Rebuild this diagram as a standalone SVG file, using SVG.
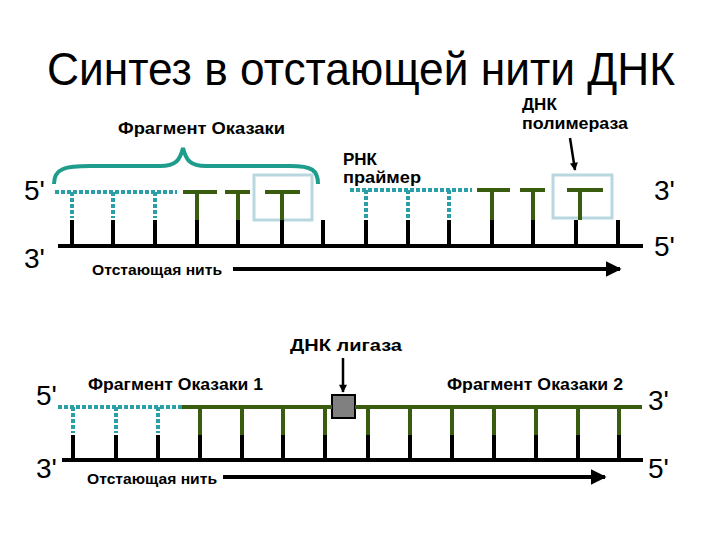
<svg xmlns="http://www.w3.org/2000/svg" width="720" height="540" viewBox="0 0 720 540">
<defs>
<style>
.t{font-family:"Liberation Sans",Arial,sans-serif;fill:#000}
.lbl{font-size:17px;font-weight:bold}
.sm{font-size:15px;font-weight:bold}
.end{font-size:28px}
.strand{stroke:#000;stroke-width:4;fill:none}
.tick{stroke:#000;stroke-width:4}
.rna{stroke:#2b9fa6;stroke-width:4;stroke-dasharray:4 2;fill:none}
.dna{stroke:#3a5c0e;stroke-width:4;fill:none}
.box{fill:none;stroke:#b9d7df;stroke-width:3}
</style>
<marker id="ah" viewBox="0 0 10 10" refX="9" refY="5" markerWidth="4" markerHeight="4" orient="auto" markerUnits="strokeWidth"><path d="M0,0 L10,5 L0,10 z" fill="#000"/></marker>
<marker id="ah2" viewBox="0 0 10 10" refX="9" refY="5" markerWidth="4" markerHeight="3.2" orient="auto" markerUnits="strokeWidth"><path d="M0,0 L10,5 L0,10 z" fill="#000"/></marker>
</defs>
<rect width="720" height="540" fill="#fff"/>
<text id="title" class="t" x="47" y="85" font-size="46" textLength="628" lengthAdjust="spacingAndGlyphs">Синтез в отстающей нити ДНК</text>

<g id="top">
<text class="t lbl" x="118" y="134" textLength="167" lengthAdjust="spacingAndGlyphs">Фрагмент Оказаки</text>
<text class="t lbl" x="522" y="110">ДНК</text>
<text class="t lbl" x="522" y="129" textLength="106" lengthAdjust="spacingAndGlyphs">полимераза</text>
<text class="t lbl" x="343" y="165">РНК</text>
<text class="t lbl" x="343" y="183" textLength="78" lengthAdjust="spacingAndGlyphs">праймер</text>
<text class="t end" x="24" y="200">5'</text>
<text class="t end" x="24" y="268">3'</text>
<text class="t end" x="654" y="200">3'</text>
<text class="t end" x="654" y="256">5'</text>
<text class="t sm" x="92" y="275" textLength="130" lengthAdjust="spacingAndGlyphs">Отстающая нить</text>
<path id="brace" d="M54,184 C54,168 66,166 90,166 L160,166 C176,166 180,160 183,148 C186,160 190,166 206,166 L290,166 C312,166 318,170 318,184" fill="none" stroke="#1e9c8c" stroke-width="4"/>
<rect id="pol1" class="box" x="254" y="175" width="58" height="45"/>
<rect id="pol2" class="box" x="553" y="175" width="59" height="43"/>
</g>

<g id="bottom">
<text class="t lbl" x="290" y="351" font-size="18" textLength="112" lengthAdjust="spacingAndGlyphs">ДНК лигаза</text>
<text class="t lbl" x="88" y="390" textLength="175" lengthAdjust="spacingAndGlyphs">Фрагмент Оказаки 1</text>
<text class="t lbl" x="447" y="390" textLength="176" lengthAdjust="spacingAndGlyphs">Фрагмент Оказаки 2</text>
<text class="t end" x="36" y="405">5'</text>
<text class="t end" x="36" y="478">3'</text>
<text class="t end" x="648" y="410">3'</text>
<text class="t end" x="648" y="478">5'</text>
<text class="t sm" x="87" y="484" textLength="130" lengthAdjust="spacingAndGlyphs">Отстающая нить</text>
<rect id="ligase" x="332" y="395" width="23" height="23" fill="#808080" stroke="#000" stroke-width="2"/>
</g>

<g id="connectors">
<line class="strand" x1="58" y1="246" x2="643" y2="246"/>
<path class="tick" d="M72,220V246M113,220V246M155,220V246M197,220V246M238,220V246M282,220V246M323,220V246M366,220V246M408,220V246M449,220V246M492,220V246M533,220V246M576,220V246M618,220V246"/>
<path class="rna" d="M55,192H177M350,190H472"/>
<path class="rna" d="M72,192V218M113,192V218M155,192V218M366,190V218M408,190V218M449,190V218"/>
<path class="dna" d="M183,192H217M197,192V220M225,192H250M238,192V220M265,192H300M282,192V220M477,190H510M492,190V220M520,190H545M533,190V220M567,190H603M580,190V220"/>
<line x1="233" y1="269" x2="620" y2="269" stroke="#000" stroke-width="4" marker-end="url(#ah)"/>
<line x1="570" y1="138" x2="575" y2="170" stroke="#000" stroke-width="2.5" marker-end="url(#ah2)"/>

<line class="strand" x1="62" y1="460" x2="643" y2="460"/>
<path class="tick" d="M73,435V460M116,435V460M158,435V460M200,435V460M242,435V460M283,435V460M325,435V460M368,435V460M410,435V460M452,435V460M494,435V460M536,435V460M578,435V460M619,435V460"/>
<path class="rna" d="M58,407H182M73,407V433M116,407V433M158,407V433"/>
<path class="dna" d="M182,407H332M355,407H642M200,407V435M242,407V435M283,407V435M325,407V435M368,407V435M410,407V435M452,407V435M494,407V435M536,407V435M578,407V435M619,407V435"/>
<line x1="223" y1="477" x2="605" y2="477" stroke="#000" stroke-width="4" marker-end="url(#ah)"/>
<line x1="343" y1="358" x2="343" y2="392" stroke="#000" stroke-width="2.5" marker-end="url(#ah2)"/>
</g>
</svg>
